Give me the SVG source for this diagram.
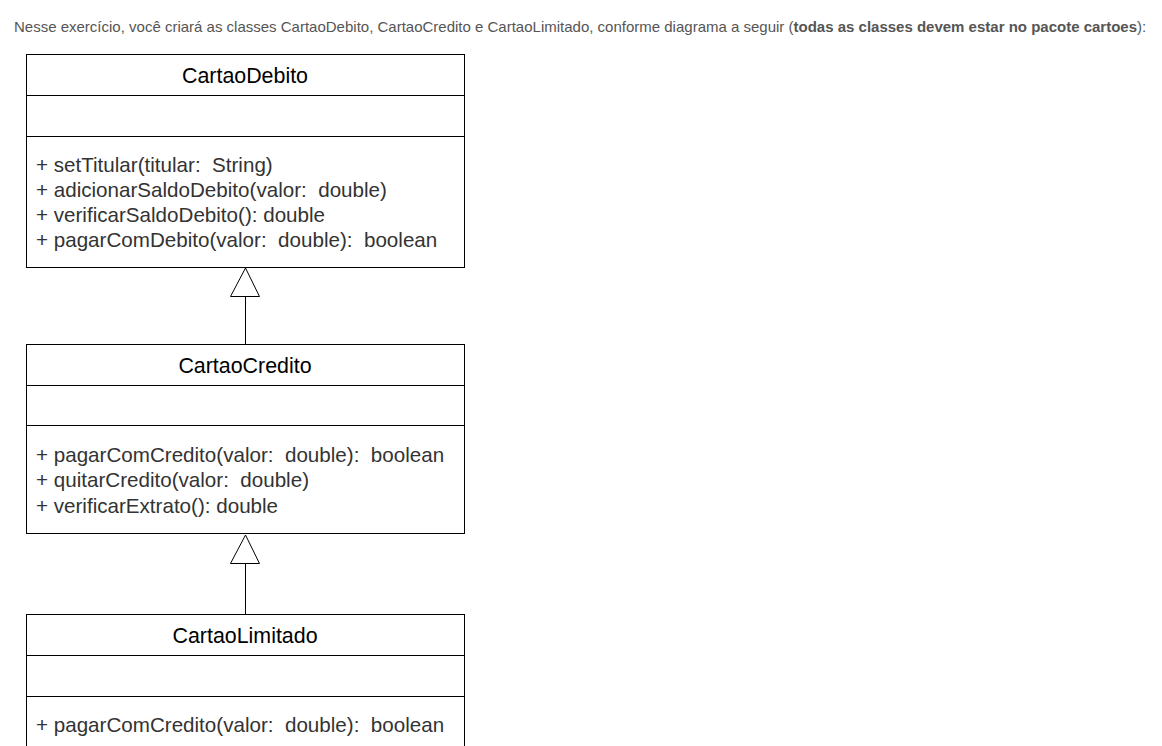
<svg xmlns="http://www.w3.org/2000/svg" width="1162" height="746" viewBox="0 0 1162 746">
<style>
.box{fill:#fff;stroke:#000;stroke-width:1}
.hd{font-family:"Liberation Sans",Arial,sans-serif;font-size:21.4px;fill:#000;text-anchor:middle}
.m{font-family:"Liberation Sans",Arial,sans-serif;font-size:20.6px;fill:#333}
.intro{font-family:"Liberation Sans",Arial,sans-serif;font-size:15px;fill:#555}
.conn{stroke:#000;stroke-width:1;fill:none}
.tri{fill:#fff;stroke:#000;stroke-width:1}
</style>
<rect width="1162" height="746" fill="#fff"/>
<text class="intro" x="14" y="32">Nesse exercício, você criará as classes CartaoDebito, CartaoCredito e CartaoLimitado, conforme diagrama a seguir (<tspan font-weight="bold">todas as classes devem estar no pacote cartoes</tspan>):</text>
<g id="CartaoDebito">
<rect class="box" x="26.5" y="54.5" width="438" height="213"/>
<line class="conn" x1="26.5" y1="95.5" x2="464.5" y2="95.5"/>
<line class="conn" x1="26.5" y1="136.5" x2="464.5" y2="136.5"/>
<text class="hd" x="245" y="83">CartaoDebito</text>
<text class="m" x="36" y="172" xml:space="preserve">+ setTitular(titular:  String)</text>
<text class="m" x="36" y="197" xml:space="preserve">+ adicionarSaldoDebito(valor:  double)</text>
<text class="m" x="36" y="222" xml:space="preserve">+ verificarSaldoDebito(): double</text>
<text class="m" x="36" y="247" xml:space="preserve">+ pagarComDebito(valor:  double):  boolean</text>
</g>
<g id="CartaoCredito">
<rect class="box" x="26.5" y="344.5" width="438" height="189"/>
<line class="conn" x1="26.5" y1="385.5" x2="464.5" y2="385.5"/>
<line class="conn" x1="26.5" y1="425.5" x2="464.5" y2="425.5"/>
<text class="hd" x="245" y="373">CartaoCredito</text>
<text class="m" x="36" y="462" xml:space="preserve">+ pagarComCredito(valor:  double):  boolean</text>
<text class="m" x="36" y="487" xml:space="preserve">+ quitarCredito(valor:  double)</text>
<text class="m" x="36" y="513" xml:space="preserve">+ verificarExtrato(): double</text>
</g>
<g id="CartaoLimitado">
<rect class="box" x="26.5" y="614.5" width="438" height="140"/>
<line class="conn" x1="26.5" y1="655.5" x2="464.5" y2="655.5"/>
<line class="conn" x1="26.5" y1="696.5" x2="464.5" y2="696.5"/>
<text class="hd" x="245" y="643">CartaoLimitado</text>
<text class="m" x="36" y="732" xml:space="preserve">+ pagarComCredito(valor:  double):  boolean</text>
</g>
<g id="connectors">
<line class="conn" x1="245.5" y1="344.5" x2="245.5" y2="296.5"/>
<polygon class="tri" points="245.5,268 230.5,296.5 259.5,296.5"/>
<line class="conn" x1="245.5" y1="614.5" x2="245.5" y2="563.5"/>
<polygon class="tri" points="245.5,535 230.5,563.5 259.5,563.5"/>
</g>
</svg>
